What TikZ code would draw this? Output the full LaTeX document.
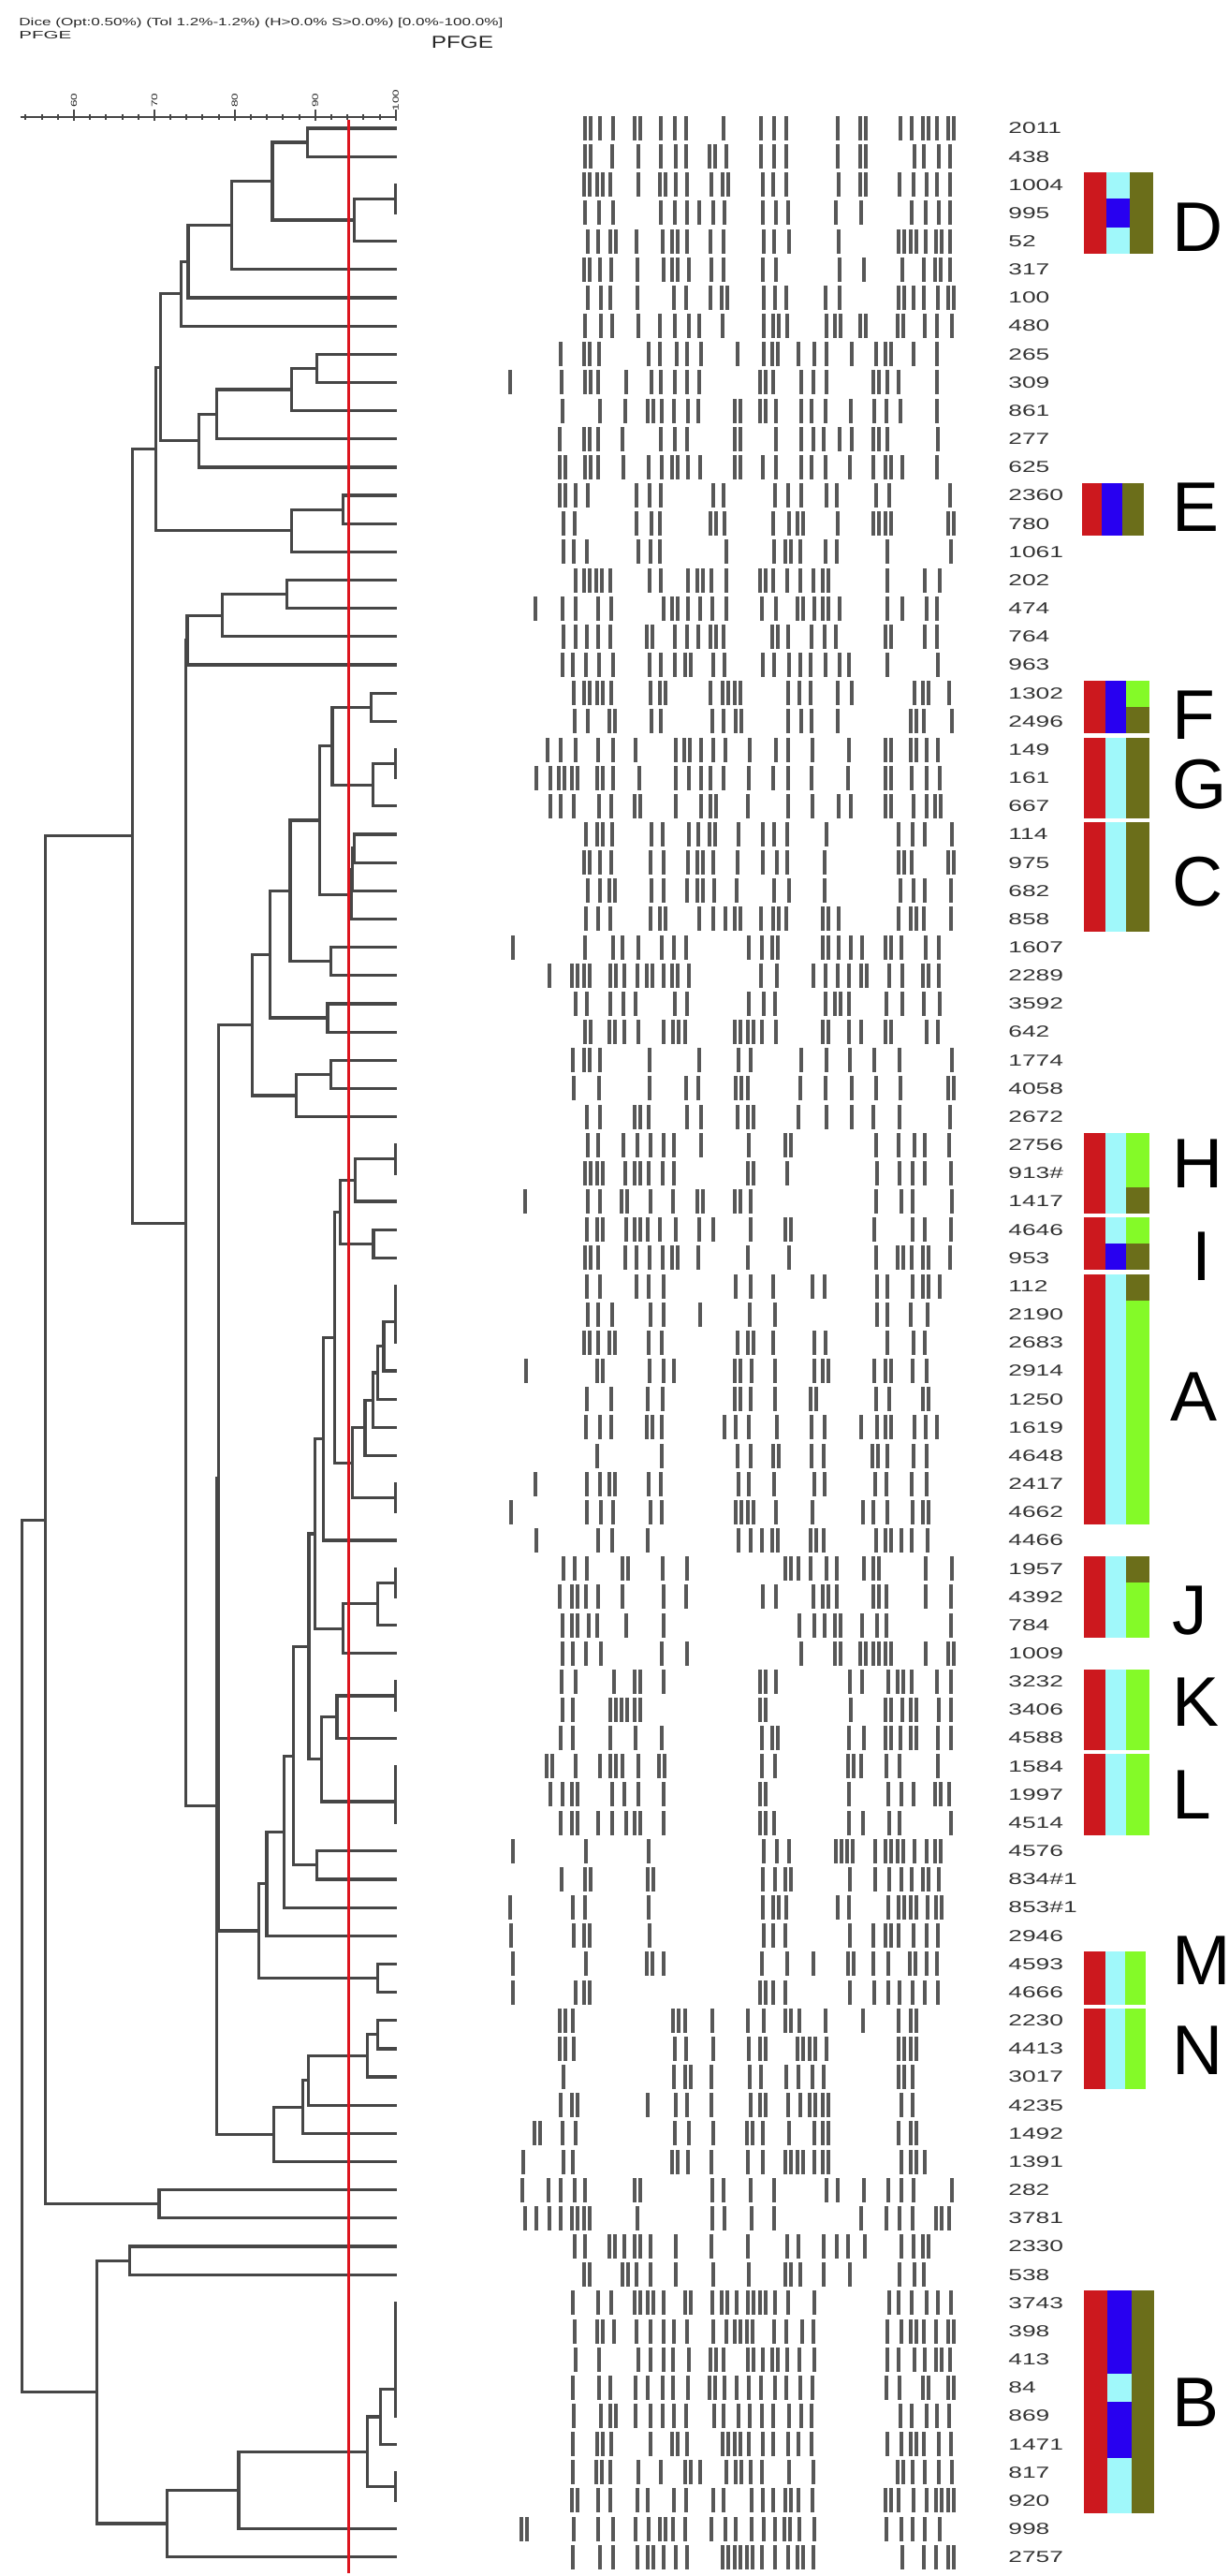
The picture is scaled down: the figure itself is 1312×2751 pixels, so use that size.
\documentclass[tikz,border=0pt]{standalone}
\usepackage{fontspec}
\setmainfont{Liberation Sans}
\usepackage{graphicx}
\usetikzlibrary{calc}
\definecolor{cred}{RGB}{204,24,30}
\definecolor{ccyan}{RGB}{160,248,250}
\definecolor{cblue}{RGB}{40,0,240}
\definecolor{colive}{RGB}{107,110,26}
\definecolor{cgreen}{RGB}{132,250,40}
\definecolor{dendc}{RGB}{70,70,70}
\definecolor{cutred}{RGB}{220,20,30}
\tikzset{
 dline/.style={draw=dendc, line width=1.6pt, line cap=rect},
 axisline/.style={draw=dendc, line width=1pt},
 lab/.style={anchor=west, inner sep=0pt, font=\fontsize{8.5}{9}\selectfont, text=black!80},
 hdr/.style={anchor=west, inner sep=0pt, font=\fontsize{5.7}{6}\selectfont, text=black!85},
 ticklab/.style={inner sep=0pt, font=\fontsize{4.5}{5}\selectfont, text=black!85},
 bigletter/.style={anchor=west, inner sep=0pt, font=\fontsize{37.5}{40}\selectfont},
 band/.style={fill=black!66},
 cutline/.style={draw=cutred, line width=1.5pt},
}
\newcommand\mkjoin[4]{%
  \coordinate (tmp) at ($(#3)!0.5!(#4)$);
  \coordinate (#1) at ($(#2,0)!(tmp)!(#2,100)$);
  \draw[dline] (#3) -- (#3 -| #1) -- (#4 -| #1) -- (#4);
}
\newcommand\cellfill[7]{\fill[#5] (#1,{121.92+(#3-1)*30.16+#6}) rectangle (#2,{121.92+#4*30.16-#7});}
\def\clist{{1,1,1,1,1,1,1,1,2,2,2,2,2,3,3,3,4,4,4,4,5,5,6,6,6,7,7,7,7,8,8,8,8,9,9,9,10,10,10,10,10,11,11,11,11,11,11,11,11,11,11,12,12,12,12,13,13,13,13,13,13,14,14,14,14,14,14,15,15,15,15,15,15,16,16,17,17,18,18,18,18,18,18,18,18,18,18}}
\begin{document}
\begin{tikzpicture}[x=0.5pt,y=-0.5pt]
\useasboundingbox (0,0) rectangle (1312,2751);
\fill[white] (0,0) rectangle (1312,2751);

% header
\node[hdr] (h1) at (20,25) {\scalebox{1.5}[1]{Dice (Opt:0.50\%) (Tol 1.2\%-1.2\%) (H>0.0\% S>0.0\%) [0.0\%-100.0\%]}};
\node[hdr] (h2) at (20,38) {\scalebox{1.8}[1]{PFGE}};
\node[inner sep=0pt, font=\fontsize{9.2}{10}\selectfont, text=black!85] (h3) at (494,45) {\scalebox{1.32}[1]{PFGE}};

% axis
\coordinate (ax0) at (21.5,125);
\coordinate (ax1) at (423.5,125);
\draw[axisline] (ax0) -- (ax1);
\foreach \s in {54,56,...,98}{
  \pgfmathsetmacro\tx{422.7-(100-\s)*8.5925}
  \coordinate (ma\s) at (\tx,122); \coordinate (mb\s) at (\tx,128);
  \draw[axisline] (ma\s) -- (mb\s);
}
\foreach \s in {60,70,80,90,100}{
  \pgfmathsetmacro\tx{422.7-(100-\s)*8.5925}
  \coordinate (tka\s) at (\tx,117); \coordinate (tkb\s) at (\tx,129);
  \draw[axisline] (tka\s) -- (tkb\s);
  \node[ticklab, rotate=90] (tl\s) at (\tx,107) {\scalebox{1.5}[1]{\s}};
}

% leaves
\foreach \r in {1,...,87}{
  \pgfmathsetmacro\yy{137+(\r-1)*30.16}
  \coordinate (L\r) at (422.7,\yy);
}

% dendrogram
\mkjoin{n1}{328.3}{L1}{L2}
\mkjoin{n2}{422.7}{L3}{L4}
\mkjoin{n3}{378.3}{n2}{L5}
\mkjoin{n4}{291}{n1}{n3}
\mkjoin{n5}{247.3}{n4}{L6}
\mkjoin{n6}{201}{n5}{L7}
\mkjoin{n7}{193.3}{n6}{L8}
\mkjoin{n8}{338.3}{L9}{L10}
\mkjoin{n9}{311.7}{n8}{L11}
\mkjoin{n10}{231.7}{n9}{L12}
\mkjoin{n11}{212.7}{n10}{L13}
\mkjoin{n12}{171.7}{n7}{n11}
\mkjoin{n13}{366.7}{L14}{L15}
\mkjoin{n14}{311.7}{n13}{L16}
\mkjoin{n15}{166.7}{n12}{n14}
\mkjoin{n16}{306.7}{L17}{L18}
\mkjoin{n17}{237.3}{n16}{L19}
\mkjoin{n18}{200}{n17}{L20}
\mkjoin{n19}{396.7}{L21}{L22}
\mkjoin{n20}{422.7}{L23}{L24}
\mkjoin{n21}{398.3}{n20}{L25}
\mkjoin{n22}{355}{n19}{n21}
\mkjoin{n23}{378.3}{L26}{L27}
\mkjoin{n24}{376.7}{n23}{L28}
\mkjoin{n25}{375}{n24}{L29}
\mkjoin{n26}{341.7}{n22}{n25}
\mkjoin{n27}{353.3}{L30}{L31}
\mkjoin{n28}{310}{n26}{n27}
\mkjoin{n29}{350}{L32}{L33}
\mkjoin{n30}{288.3}{n28}{n29}
\mkjoin{n31}{353.3}{L34}{L35}
\mkjoin{n32}{316.7}{n31}{L36}
\mkjoin{n33}{269.3}{n30}{n32}
\mkjoin{a1}{422.7}{L37}{L38}
\mkjoin{a2}{379.3}{a1}{L39}
\mkjoin{a3}{399}{L40}{L41}
\mkjoin{a4}{363.3}{a2}{a3}
\mkjoin{a5}{422.7}{L42}{L43}
\mkjoin{a6}{422.7}{a5}{L44}
\mkjoin{a7}{410}{a6}{L45}
\mkjoin{a8}{403.3}{a7}{L46}
\mkjoin{a9}{398.3}{a8}{L47}
\mkjoin{a10}{390}{a9}{L48}
\mkjoin{a11}{422.7}{L49}{L50}
\mkjoin{a12}{376.7}{a10}{a11}
\mkjoin{a13}{357.7}{a4}{a12}
\mkjoin{a14}{345.5}{a13}{L51}
\mkjoin{j1}{422.7}{L52}{L53}
\mkjoin{j2}{403.3}{j1}{L54}
\mkjoin{j3}{366.7}{j2}{L55}
\mkjoin{a15}{336.7}{a14}{j3}
\mkjoin{k1}{422.7}{L56}{L57}
\mkjoin{k2}{360}{k1}{L58}
\mkjoin{l1}{422.7}{L59}{L60}
\mkjoin{l2}{422.7}{l1}{L61}
\mkjoin{k3}{343.3}{k2}{l2}
\mkjoin{a16}{330}{a15}{k3}
\mkjoin{p1}{338.3}{L62}{L63}
\mkjoin{a17}{313.3}{a16}{p1}
\mkjoin{a18}{303.3}{a17}{L64}
\mkjoin{a19}{285}{a18}{L65}
\mkjoin{m1}{403.3}{L66}{L67}
\mkjoin{a20}{276.7}{a19}{m1}
\mkjoin{q1}{403.3}{L68}{L69}
\mkjoin{q2}{392.7}{q1}{L70}
\mkjoin{q3}{329.3}{q2}{L71}
\mkjoin{q4}{323.3}{q3}{L72}
\mkjoin{q5}{292.7}{q4}{L73}
\mkjoin{b1}{233.3}{n33}{a20}
\mkjoin{b2}{231.3}{b1}{q5}
\mkjoin{b3}{198.3}{n18}{b2}
\mkjoin{b4}{141.7}{n15}{b3}
\mkjoin{r1}{170}{L74}{L75}
\mkjoin{b5}{48.5}{b4}{r1}
\mkjoin{s1}{138.3}{L76}{L77}
\mkjoin{c1}{422.7}{L78}{L79}
\mkjoin{c2}{422.7}{c1}{L80}
\mkjoin{c3}{422.7}{c2}{L81}
\mkjoin{c4}{422.7}{c3}{L82}
\mkjoin{c5}{406.7}{c4}{L83}
\mkjoin{c6}{422.7}{L84}{L85}
\mkjoin{c7}{392.7}{c5}{c6}
\mkjoin{c8}{255}{c7}{L86}
\mkjoin{c9}{178.3}{c8}{L87}
\mkjoin{s2}{103.3}{s1}{c9}
\mkjoin{root}{23.3}{b5}{s2}

% cut-off line
\coordinate (rtop) at (372.7,128);
\coordinate (rbot) at (372.7,2748);
\draw[cutline] (rtop) -- (rbot);

% bands
\foreach \r in {1,...,87}{
  \pgfmathsetmacro\yy{137+(\r-1)*30.16}
  \pgfmathtruncatemacro\cid{\clist[\r-1]}
  \foreach \p in {0,...,35}{
    \pgfmathsetmacro\bx{546+\p*13.4}
    \pgfmathsetmacro\hc{mod(abs(sin(\cid*91.7+\p*37.3+11)*997.13),1)}
    \pgfmathsetmacro\hr{mod(abs(sin(\r*47.9+\p*23.1+3)*991.71),1)}
    \pgfmathsetmacro\hj{mod(abs(cos(\r*13.3+\p*61.7)*773.3),1)}
    \ifnum\cid=18
      \pgfmathsetmacro\thr{\bx<670 ? 0.3 : (\bx<890 ? 0.85 : (\bx<945 ? 0.1 : 0.85))}
    \else
      \ifnum\cid=16
        \pgfmathsetmacro\thr{\bx<590 ? 0.45 : 0.5}
      \else
        \pgfmathsetmacro\thr{\bx<590 ? 0.06 : 0.52}
      \fi
    \fi
    \pgfmathtruncatemacro\inc{or(and(\hc<\thr,\hr>0.12),\hr<0.04)}
    \ifnum\inc=1
      \pgfmathsetmacro\jx{\bx+(\hj-0.5)*5}
      \fill[band] (\jx-2,\yy-13) rectangle (\jx+2,\yy+13);
      \ifdim\hj pt<0.2pt
        \fill[band] (\jx+4,\yy-13) rectangle (\jx+8,\yy+13);
      \fi
    \fi
  }
}

% labels
\foreach \r/\lbl in {1/2011,2/438,3/1004,4/995,5/52,6/317,7/100,8/480,9/265,10/309,11/861,12/277,13/625,14/2360,15/780,16/1061,17/202,18/474,19/764,20/963,21/1302,22/2496,23/149,24/161,25/667,26/114,27/975,28/682,29/858,30/1607,31/2289,32/3592,33/642,34/1774,35/4058,36/2672,37/2756,38/913\#,39/1417,40/4646,41/953,42/112,43/2190,44/2683,45/2914,46/1250,47/1619,48/4648,49/2417,50/4662,51/4466,52/1957,53/4392,54/784,55/1009,56/3232,57/3406,58/4588,59/1584,60/1997,61/4514,62/4576,63/834\#1,64/853\#1,65/2946,66/4593,67/4666,68/2230,69/4413,70/3017,71/4235,72/1492,73/1391,74/282,75/3781,76/2330,77/538,78/3743,79/398,80/413,81/84,82/869,83/1471,84/817,85/920,86/998,87/2757}{
  \pgfmathsetmacro\yy{137+(\r-1)*30.16}
  \node[lab] (t\r) at (1077,\yy) {\scalebox{1.55}[1]{\lbl}};
}

% colour blocks
% D
\cellfill{1158}{1182}{3}{5}{cred}{2}{2}
\cellfill{1182}{1207}{3}{3}{ccyan}{2}{0}
\cellfill{1182}{1207}{4}{4}{cblue}{0}{0}
\cellfill{1182}{1207}{5}{5}{ccyan}{0}{2}
\cellfill{1207}{1232}{3}{5}{colive}{2}{2}
% E
\cellfill{1156}{1177}{14}{15}{cred}{2}{2}
\cellfill{1177}{1199}{14}{15}{cblue}{2}{2}
\cellfill{1199}{1222}{14}{15}{colive}{2}{2}
% F
\cellfill{1158}{1181}{21}{22}{cred}{2}{2}
\cellfill{1181}{1203}{21}{22}{cblue}{2}{2}
\cellfill{1203}{1228}{21}{21}{cgreen}{2}{0}
\cellfill{1203}{1228}{22}{22}{colive}{0}{2}
% G
\cellfill{1158}{1181}{23}{25}{cred}{3}{2}
\cellfill{1181}{1203}{23}{25}{ccyan}{3}{2}
\cellfill{1203}{1228}{23}{25}{colive}{3}{2}
% C
\cellfill{1158}{1181}{26}{29}{cred}{2}{2}
\cellfill{1181}{1203}{26}{29}{ccyan}{2}{2}
\cellfill{1203}{1228}{26}{29}{colive}{2}{2}
% H
\cellfill{1158}{1181}{37}{39}{cred}{2}{2}
\cellfill{1181}{1203}{37}{39}{ccyan}{2}{2}
\cellfill{1203}{1228}{37}{38}{cgreen}{2}{0}
\cellfill{1203}{1228}{39}{39}{colive}{0}{2}
% I
\cellfill{1158}{1181}{40}{41}{cred}{2}{2}
\cellfill{1181}{1203}{40}{40}{ccyan}{2}{0}
\cellfill{1181}{1203}{41}{41}{cblue}{0}{2}
\cellfill{1203}{1228}{40}{40}{cgreen}{2}{0}
\cellfill{1203}{1228}{41}{41}{colive}{0}{2}
% A
\cellfill{1158}{1181}{42}{50}{cred}{3}{2}
\cellfill{1181}{1203}{42}{50}{ccyan}{3}{2}
\cellfill{1203}{1228}{42}{42}{colive}{3}{0}
\cellfill{1203}{1228}{43}{50}{cgreen}{0}{2}
% J
\cellfill{1158}{1181}{52}{54}{cred}{2}{2}
\cellfill{1181}{1203}{52}{54}{ccyan}{2}{2}
\cellfill{1203}{1228}{52}{52}{colive}{2}{0}
\cellfill{1203}{1228}{53}{54}{cgreen}{0}{2}
% K
\cellfill{1158}{1181}{56}{58}{cred}{2}{2}
\cellfill{1181}{1203}{56}{58}{ccyan}{2}{2}
\cellfill{1203}{1228}{56}{58}{cgreen}{2}{2}
% L
\cellfill{1158}{1181}{59}{61}{cred}{2}{2}
\cellfill{1181}{1203}{59}{61}{ccyan}{2}{2}
\cellfill{1203}{1228}{59}{61}{cgreen}{2}{2}
% M
\cellfill{1158}{1181}{66}{67}{cred}{2}{2}
\cellfill{1181}{1202}{66}{67}{ccyan}{2}{2}
\cellfill{1202}{1224}{66}{67}{cgreen}{2}{2}
% N
\cellfill{1158}{1181}{68}{70}{cred}{2}{2}
\cellfill{1181}{1202}{68}{70}{ccyan}{2}{2}
\cellfill{1202}{1224}{68}{70}{cgreen}{2}{2}
% B
\cellfill{1158}{1183}{78}{85}{cred}{2}{2}
\cellfill{1183}{1209}{78}{80}{cblue}{2}{0}
\cellfill{1183}{1209}{81}{81}{ccyan}{0}{0}
\cellfill{1183}{1209}{82}{83}{cblue}{0}{0}
\cellfill{1183}{1209}{84}{85}{ccyan}{0}{2}
\cellfill{1209}{1233}{78}{85}{colive}{2}{2}

% cluster letters
\node[bigletter] (lD) at (1252,243) {D};
\node[bigletter] (lE) at (1252,542) {E};
\node[bigletter] (lF) at (1252,764) {F};
\node[bigletter] (lG) at (1252,838) {G};
\node[bigletter] (lC) at (1252,942) {C};
\node[bigletter] (lH) at (1252,1243) {H};
\node[bigletter, anchor=center] (lI) at (1284,1342) {I};
\node[bigletter] (lA) at (1250,1492) {A};
\node[bigletter] (lJ) at (1252,1720) {J};
\node[bigletter] (lK) at (1252,1818) {K};
\node[bigletter] (lL) at (1252,1917) {L};
\node[bigletter] (lM) at (1252,2094) {M};
\node[bigletter] (lN) at (1252,2190) {N};
\node[bigletter] (lB) at (1252,2566) {B};
\end{tikzpicture}
\end{document}
